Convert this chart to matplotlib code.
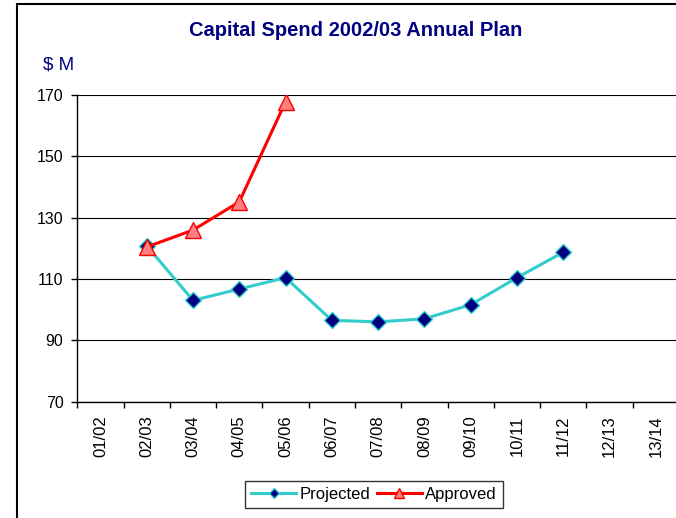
import numpy as np
import matplotlib
matplotlib.use("Agg")
import matplotlib.pyplot as plt
from matplotlib.patches import Rectangle

plt.rcParams['font.family'] = ['Liberation Sans', 'DejaVu Sans']

# Financial years and spend ($M)
categories = ['01/02', '02/03', '03/04', '04/05', '05/06', '06/07', '07/08',
              '08/09', '09/10', '10/11', '11/12', '12/13', '13/14']
projected = [np.nan, 120.8, 103.0, 106.7, 110.4, 96.5, 96.0, 97.0, 101.6,
             110.4, 118.7, np.nan, np.nan]
approved = [np.nan, 120.4, 125.9, 135.1, 167.7, np.nan, np.nan, np.nan,
            np.nan, np.nan, np.nan, np.nan, np.nan]
y_ticks = [70, 90, 110, 130, 150, 170]

W, H = 676, 518
fig = plt.figure(figsize=(W / 100, H / 100), dpi=100)

# chart-area frame (runs off the right and bottom edges)
fig.patches.append(Rectangle((16.5 / W, -0.05), 1.2, 1.05 - 4 / H,
                             transform=fig.transFigure, fill=False,
                             edgecolor='black', linewidth=1.5))

left, right = 77.3 / W, 679 / W
bottom, top = 1 - 401.7 / H, 1 - 94.7 / H
ax = fig.add_axes([left, bottom, right - left, top - bottom])

x = np.arange(len(categories))
ax.plot(x, projected, color='#33CCCC', linewidth=2.2, marker='D',
        markersize=7.8, markerfacecolor='#000080', markeredgecolor='#33CCCC',
        markeredgewidth=1.0, label='Projected', zorder=3)
ax.plot(x, approved, color='#FF0000', linewidth=2.2, marker='^',
        markersize=11, markerfacecolor='#FF8080', markeredgecolor='#FF0000',
        markeredgewidth=1.0, label='Approved', zorder=4)

ax.set_xlim(-0.5, len(categories) - 0.5)
ax.set_ylim(70, 170)

ax.set_yticks(y_ticks)
ax.set_yticklabels([str(v) for v in y_ticks])
ax.tick_params(axis='y', direction='out', length=4, width=1, pad=6,
               labelsize=11.5, colors='black')

# ticks between categories, labels at category centres
ax.set_xticks(np.arange(len(categories) + 1) - 0.5)
ax.set_xticklabels([])
ax.tick_params(axis='x', which='major', direction='out', length=4, width=1)
ax.set_xticks(x, minor=True)
ax.set_xticklabels(categories, minor=True, rotation=90, fontsize=12)
ax.tick_params(axis='x', which='minor', length=0, pad=10)

ax.grid(axis='y', color='black', linewidth=0.8)
ax.set_axisbelow(True)
for s in ('top', 'right'):
    ax.spines[s].set_visible(False)
for s in ('left', 'bottom'):
    ax.spines[s].set_linewidth(1.0)
    ax.spines[s].set_color('black')

fig.text(355.5 / W, 1 - 31 / H, 'Capital Spend 2002/03 Annual Plan',
         ha='center', va='center', fontsize=14.5, fontweight='bold',
         color='#000080')
fig.text(43 / W, 1 - 65 / H, '$ M', ha='left', va='center', fontsize=13.5,
         color='#000080')

leg = fig.legend(loc='center', bbox_to_anchor=(374 / W, 1 - 494.5 / H),
                 ncol=2, fontsize=12, frameon=True, fancybox=False,
                 edgecolor='black', handlelength=2.7, handletextpad=0.2,
                 columnspacing=0.4, borderpad=0.35, borderaxespad=0,
                 markerscale=0.7)
leg.get_frame().set_linewidth(1.0)

fig.savefig('out.png', dpi=100)
